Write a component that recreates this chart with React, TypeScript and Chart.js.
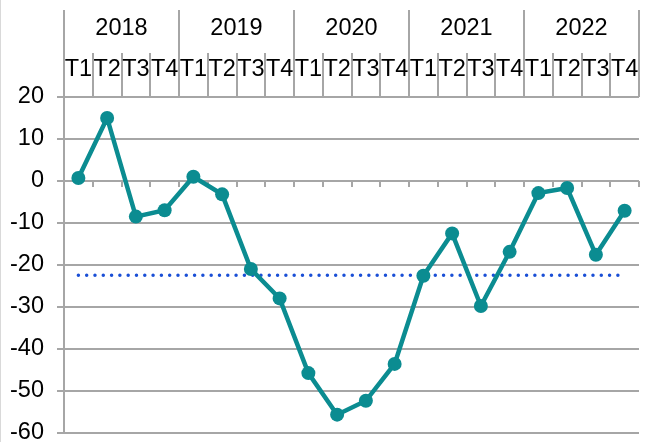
import React, { useEffect, useRef } from "react";
import { Chart, registerables } from "chart.js";

Chart.register(...registerables);

const years = ["2018", "2019", "2020", "2021", "2022"];
const quarters = [
  "T1", "T2", "T3", "T4",
  "T1", "T2", "T3", "T4",
  "T1", "T2", "T3", "T4",
  "T1", "T2", "T3", "T4",
  "T1", "T2", "T3", "T4",
];
const seriesValues = [
  0.7, 15, -8.5, -7,
  1, -3.2, -21, -28,
  -45.8, -55.7, -52.4, -43.6,
  -22.6, -12.5, -29.8, -16.9,
  -2.9, -1.7, -17.6, -7.1,
];
const averageValues = [
  -22.5, -22.5, -22.5, -22.5,
  -22.5, -22.5, -22.5, -22.5,
  -22.5, -22.5, -22.5, -22.5,
  -22.5, -22.5, -22.5, -22.5,
  -22.5, -22.5, -22.5, -22.5,
];
const yMin = -60;
const yMax = 20;
const yStep = 10;

const TEAL = "#0B8C91";
const BLUE = "#1A4FD6";
const GRID = "#A6A6A6";
const FONT = "'Liberation Sans', Arial, sans-serif";
const FONT_SIZE = 23.5;

export default function App() {
  const canvasRef = useRef<HTMLCanvasElement | null>(null);

  useEffect(() => {
    const canvas = canvasRef.current;
    if (!canvas) return;
    Chart.defaults.font.family = FONT;
    const chart = new Chart(canvas, {
      type: "line",
      data: {
        labels: quarters,
        datasets: [
          {
            data: seriesValues,
            xAxisID: "x",
            yAxisID: "y",
            borderColor: TEAL,
            backgroundColor: TEAL,
            borderWidth: 4.5,
            pointRadius: 7,
            pointBackgroundColor: TEAL,
            pointBorderWidth: 0,
            tension: 0,
          },
          {
            data: averageValues,
            xAxisID: "x",
            yAxisID: "y",
            borderColor: BLUE,
            borderWidth: 3.5,
            borderDash: [0, 8.3],
            borderCapStyle: "round",
            pointRadius: 0,
            tension: 0,
          },
        ],
      },
      options: {
        animation: false,
        responsive: false,
        layout: { padding: { top: 10, left: 0, right: 0, bottom: 0 } },
        plugins: {
          legend: { display: false },
          tooltip: { enabled: false },
        },
        scales: {
          x: {
            type: "category",
            position: "top",
            weight: 1,
            offset: true,
            grid: {
              display: true,
              offset: true,
              drawOnChartArea: false,
              drawTicks: true,
              tickLength: 44,
              color: GRID,
              lineWidth: 2,
            },
            border: { display: false },
            ticks: {
              autoSkip: false,
              maxRotation: 0,
              minRotation: 0,
              padding: -30.6,
              color: "#000",
              font: { size: FONT_SIZE, family: FONT },
            },
            afterFit: (s: any) => {
              s.height = 44;
              s.paddingLeft = 0;
              s.paddingRight = 0;
            },
          },
          xYear: {
            type: "category",
            position: "top",
            weight: 2,
            labels: years,
            offset: true,
            grid: {
              display: true,
              offset: true,
              drawOnChartArea: false,
              drawTicks: true,
              tickLength: 43,
              color: GRID,
              lineWidth: 2,
            },
            border: { display: false },
            ticks: {
              autoSkip: false,
              maxRotation: 0,
              minRotation: 0,
              padding: -32.4,
              color: "#000",
              font: { size: FONT_SIZE, family: FONT },
            },
            afterFit: (s: any) => {
              s.height = 43;
              s.paddingLeft = 0;
              s.paddingRight = 0;
            },
          },
          x0: {
            type: "category",
            position: { y: 0 } as any,
            offset: true,
            grid: {
              display: true,
              offset: true,
              drawOnChartArea: false,
              drawTicks: true,
              tickLength: 6,
              color: GRID,
              lineWidth: 2,
            },
            border: { display: false },
            ticks: { display: false },
            afterFit: (s: any) => {
              s.height = 0;
              s.paddingLeft = 0;
              s.paddingRight = 0;
            },
          },
          y: {
            type: "linear",
            position: "left",
            min: yMin,
            max: yMax,
            grid: {
              color: GRID,
              lineWidth: 2,
              drawTicks: true,
              tickLength: 7,
            },
            border: { display: true, color: GRID, width: 2 },
            ticks: {
              stepSize: yStep,
              padding: 13,
              color: "#000",
              font: { size: FONT_SIZE, family: FONT },
            },
            afterFit: (s: any) => {
              s.width = 63;
              s.paddingTop = 0;
              s.paddingBottom = 9.3;
            },
          },
        },
      },
    });
    return () => chart.destroy();
  }, []);

  return (
    <div
      style={{
        position: "fixed",
        left: 0,
        top: 0,
        width: 646,
        height: 442,
        boxSizing: "border-box",
        borderLeft: "1px solid #D9D9D9",
        background: "#fff",
        overflow: "hidden",
      }}
    >
      <canvas
        ref={canvasRef}
        width={645}
        height={442}
        style={{ display: "block", width: 645, height: 442 }}
      />
    </div>
  );
}
